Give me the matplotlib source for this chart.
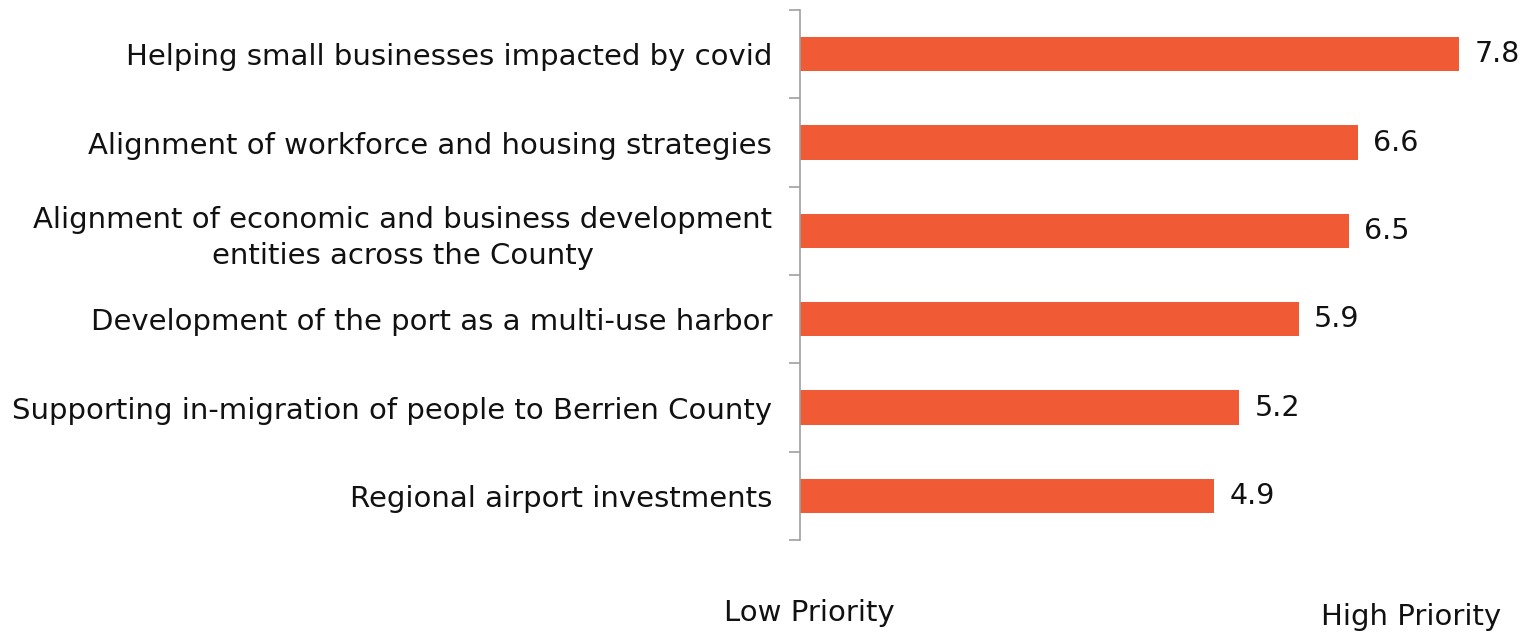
import numpy as np
import matplotlib.pyplot as plt
from matplotlib.ticker import FixedLocator

categories = ['Helping small businesses impacted by covid',
              'Alignment of workforce and housing strategies',
              'Alignment of economic and business development\nentities across the County',
              'Development of the port as a multi-use harbor',
              'Supporting in-migration of people to Berrien County',
              'Regional airport investments']
scores = [7.8, 6.6, 6.5, 5.9, 5.2, 4.9]

BAR_COLOR = '#F05A35'
TEXT_COLOR = '#111111'


def main():
    plt.rcParams['font.family'] = ['DejaVu Sans']
    fig = plt.figure(figsize=(15.33, 6.33), dpi=100)
    ax = fig.add_axes([800 / 1533, 1 - 540 / 633, 733 / 1533, 530 / 633])

    y = np.arange(len(categories))
    ax.barh(y, scores, height=0.39, color=BAR_COLOR)
    ax.set_ylim(len(categories) - 0.5, -0.5)
    ax.set_xlim(0, 733 / 84.5)

    for yi, v in zip(y, scores):
        ax.text(v + 0.18, yi, '%.1f' % v, va='center', ha='left',
                fontsize=20.5, color=TEXT_COLOR)

    ax.set_yticks(y)
    ax.set_yticklabels(categories, fontsize=21, color=TEXT_COLOR,
                       multialignment='center', linespacing=1.35)
    ax.tick_params(axis='y', which='major', length=0, pad=20)
    ax.yaxis.set_minor_locator(FixedLocator(np.arange(-0.5, len(categories), 1)))
    ax.tick_params(axis='y', which='minor', length=8, color='#A0A0A0', width=1.2)

    ax.set_xticks([])
    for s in ['top', 'right', 'bottom']:
        ax.spines[s].set_visible(False)
    ax.spines['left'].set_color('#A0A0A0')
    ax.spines['left'].set_linewidth(1.2)

    fig.text(809 / 1533, 1 - 613 / 633, 'Low Priority', ha='center', va='center',
             fontsize=21, color=TEXT_COLOR)
    fig.text(1411 / 1533, 1 - 617 / 633, 'High Priority', ha='center', va='center',
             fontsize=21, color=TEXT_COLOR)

    fig.savefig('out.png', dpi=100)


if __name__ == "__main__":
    main()
